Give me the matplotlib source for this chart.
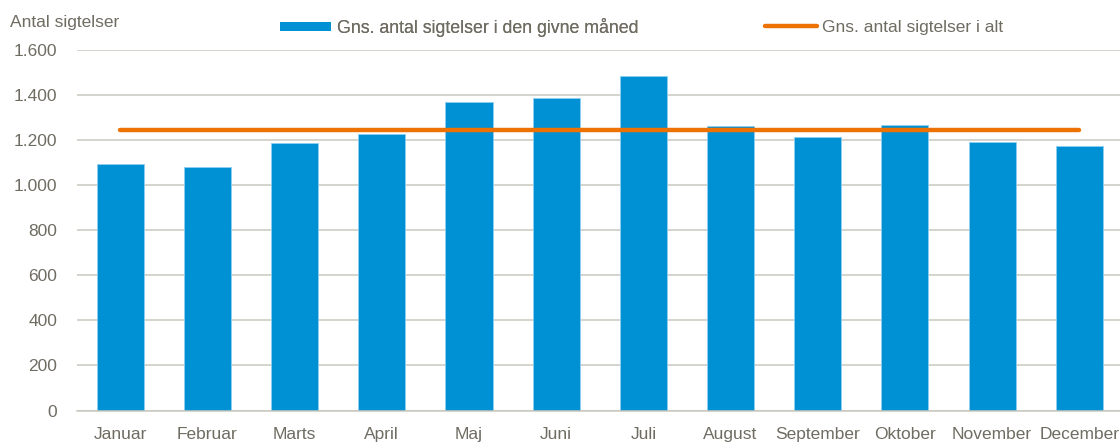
# Gns. antal sigtelser pr. maaned

import numpy as np
import matplotlib
matplotlib.use('Agg')
import matplotlib.pyplot as plt
from matplotlib.ticker import FuncFormatter
from matplotlib.patches import Patch
from matplotlib.lines import Line2D

months = ['Januar', 'Februar', 'Marts', 'April', 'Maj', 'Juni', 'Juli',
          'August', 'September', 'Oktober', 'November', 'December']
monthly_avg = [1092, 1080, 1188, 1227, 1370, 1388, 1486, 1261, 1215, 1265, 1190, 1173]
overall_avg = 1247
y_ticks = [0, 200, 400, 600, 800, 1000, 1200, 1400, 1600]

bar_label = 'Gns. antal sigtelser i den givne måned'
line_label = 'Gns. antal sigtelser i alt'
y_title = 'Antal sigtelser'

blue = '#0090d4'
orange = '#ee7203'
text_col = '#6f6c62'
grid_col = '#c9c7bf'

plt.rcParams['font.family'] = ['Liberation Sans', 'DejaVu Sans']

fig = plt.figure(figsize=(11.2, 4.48), dpi=100)
ax = fig.add_axes([0.0685, 0.0837, 0.934, 0.8047])

x = np.arange(len(months))
ax.bar(x, monthly_avg, width=0.54, color=blue, edgecolor='#8fcdef', lw=0.6, zorder=2)
ax.plot(x, [overall_avg] * len(x), color=orange, lw=3.2, solid_capstyle='round', zorder=3)

# axes styling
ax.set_xlim(-0.5, len(months) - 0.5)
ax.set_ylim(0, 1600)
ax.set_yticks(y_ticks)
ax.yaxis.set_major_formatter(FuncFormatter(lambda v, p: '{:,.0f}'.format(v).replace(',', '.')))
ax.set_xticks(x)
ax.set_xticklabels(months)
ax.grid(axis='y', color=grid_col, lw=1.1, zorder=0)
ax.set_axisbelow(True)
for side in ['top', 'right', 'left']:
    ax.spines[side].set_visible(False)
ax.spines['bottom'].set_color(grid_col)
ax.spines['bottom'].set_linewidth(1.1)
ax.tick_params(axis='both', length=0, labelsize=12.5, colors=text_col)
ax.tick_params(axis='y', pad=14)
ax.tick_params(axis='x', pad=12)

fig.text(0.009, 0.95, y_title, fontsize=12.5, color=text_col, va='center', ha='left')

# legends
leg1 = fig.legend(handles=[Patch(facecolor=blue, edgecolor='none', label=bar_label)],
                  loc='center left', bbox_to_anchor=(280 / 1120, 1 - 27.5 / 448),
                  frameon=False, fontsize=12.8, handlelength=2.85, handleheight=0.38,
                  handletextpad=0.33, borderpad=0, borderaxespad=0)
for t in leg1.get_texts():
    t.set_color(text_col)
leg2 = fig.legend(handles=[Line2D([0], [0], color=orange, lw=3.2, solid_capstyle='round',
                                  label=line_label)],
                  loc='center left', bbox_to_anchor=(765 / 1120, 1 - 27.5 / 448),
                  frameon=False, fontsize=12.5, handlelength=3.0,
                  handletextpad=0.3, borderpad=0, borderaxespad=0)
for t in leg2.get_texts():
    t.set_color(text_col)
fig.add_artist(leg1)

fig.savefig('out.png', dpi=100)
